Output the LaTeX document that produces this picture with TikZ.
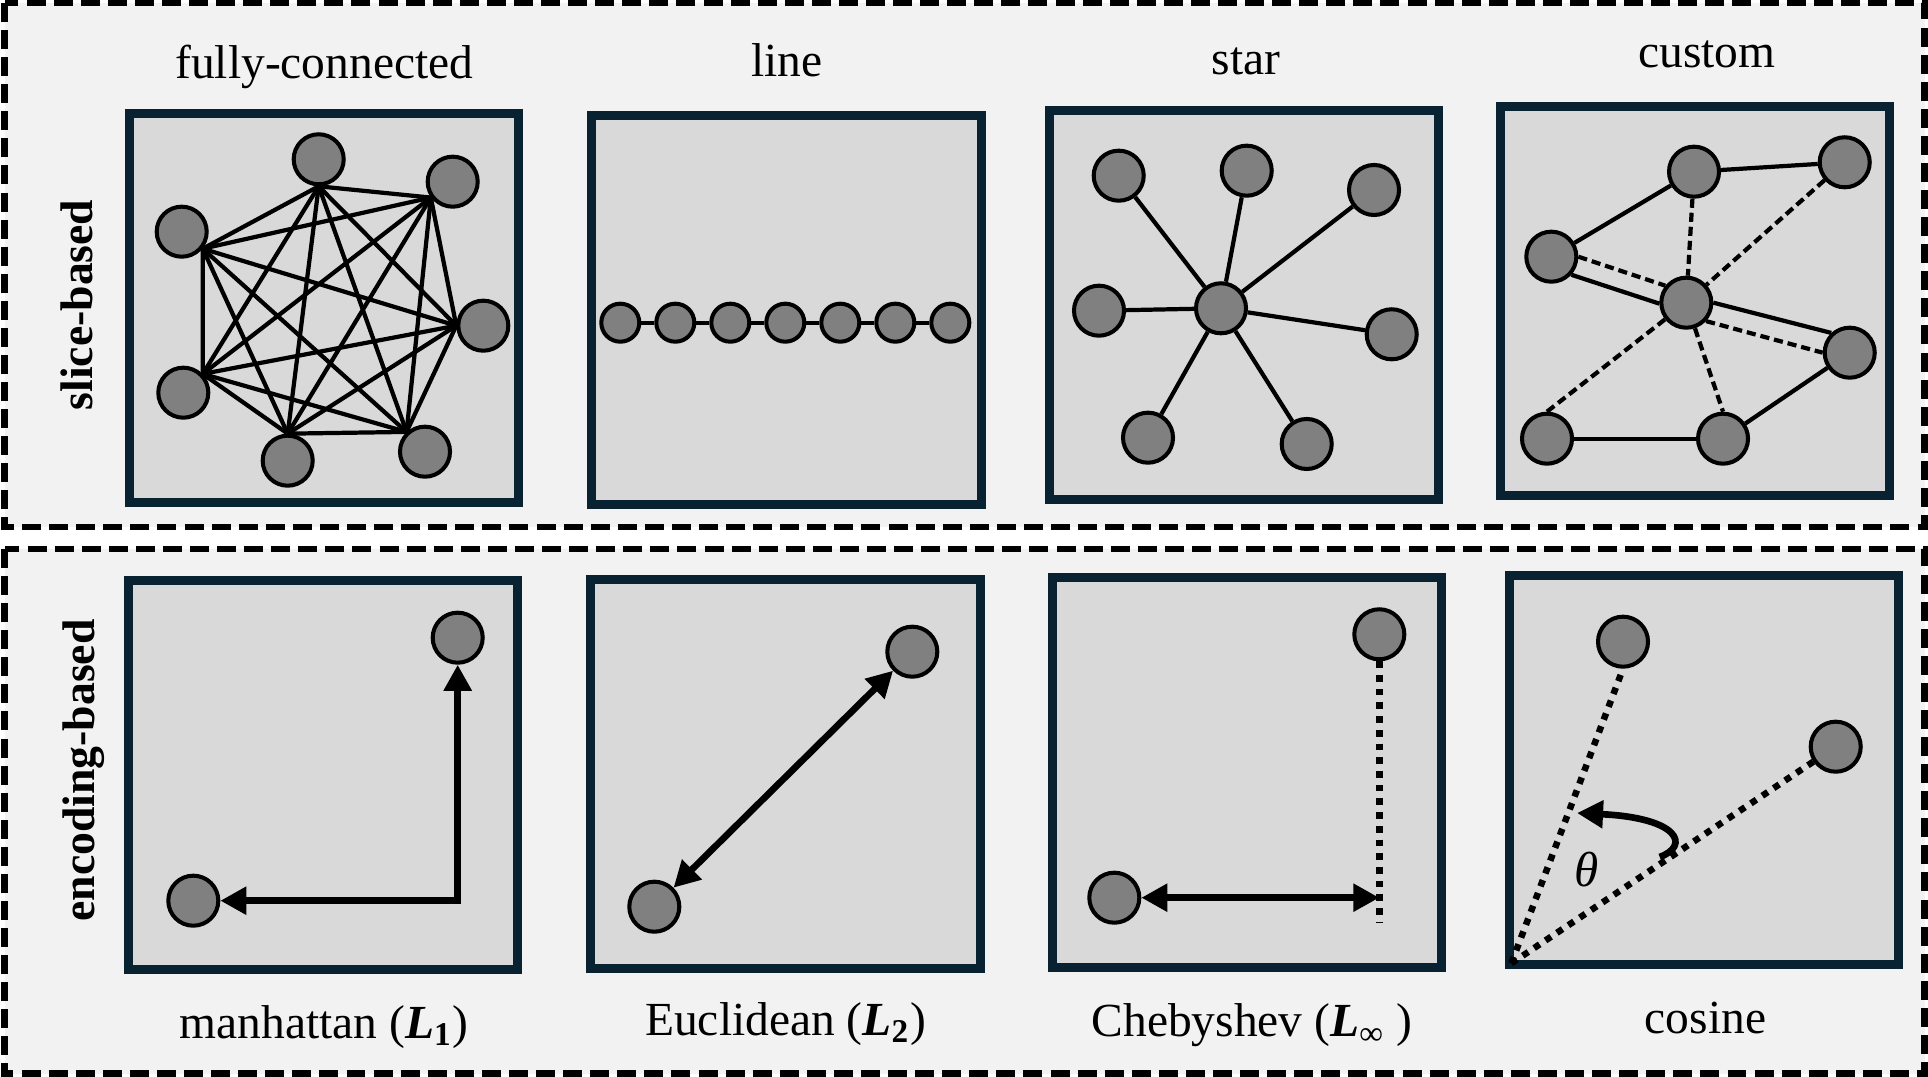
\documentclass[tikz,border=0pt]{standalone}
\usepackage{fontspec}
\setmainfont{Liberation Serif}
\usetikzlibrary{arrows.meta}

\definecolor{boxgray}{HTML}{F2F2F2}
\definecolor{panelgray}{HTML}{D9D9D9}
\definecolor{panelnavy}{RGB}{8,34,50}
\definecolor{vertexgray}{HTML}{808080}

\begin{document}
\begin{tikzpicture}[
        x=0.01cm, y=-0.01cm,
        >={Triangle[length=7.4pt, width=7.6pt]},
        outerbox/.style={draw=black, fill=boxgray, line width=1.85pt, dash pattern=on 5.4pt off 2.3pt},
        panel/.style={rectangle, draw=panelnavy, fill=panelgray, line width=2.56pt, minimum size=3.89cm, inner sep=0pt},
        vertex/.style={circle, draw=black, fill=vertexgray, line width=1.15pt, minimum size=0.5cm, inner sep=0pt},
        small vertex/.style={vertex, minimum size=0.38cm},
        link/.style={line width=1.2pt},
        dlink/.style={link, dash pattern=on 2.6pt off 1.4pt},
        dotline/.style={line width=1.85pt, dash pattern=on 1.9pt off 2pt},
        arrow/.style={line width=1.9pt},
        title/.style={font=\fontsize{13.5}{16}\selectfont, anchor=base},
        side/.style={font=\fontsize{13}{15}\selectfont\bfseries, rotate=90}
    ]

    % Page and the two groups
    \useasboundingbox (0,0) rectangle (1928,1077);
    \fill[white] (0,0) rectangle (1928,1077);
    \draw[outerbox] (4.5,3) rectangle (1924.5,527);
    \draw[outerbox] (4.5,549) rectangle (1924.5,1073.5);

    \node[side] (lslice) at (77,305) {slice-based};
    \node[side] (lenc) at (84,770.5) {encoding-based};

    % Panels
    \node[panel] (pfull) at (324.2,308.2) {};
    \node[panel] (pline) at (786.5,310.2) {};
    \node[panel] (pstar) at (1243.9,305.2) {};
    \node[panel] (pcustom) at (1695.3,301.3) {};
    \node[panel] (pman) at (323.3,775.2) {};
    \node[panel] (peuc) at (785.5,774.2) {};
    \node[panel] (pcheb) at (1247.3,772.5) {};
    \node[panel] (pcos) at (1704.3,770.2) {};

    % Titles
    \node[title] (tfull) at (324.3,79) {fully-connected};
    \node[title] (tline) at (786.7,76.7) {line};
    \node[title] (tstar) at (1246,75) {star};
    \node[title] (tcustom) at (1707,67.3) {custom};
    \node[title] (tman) at (324,1038.3) {manhattan ({\bfseries\itshape L}\textsubscript{\bfseries 1})};
    \node[title] (teuc) at (785.5,1035) {Euclidean ({\bfseries\itshape L}\textsubscript{\bfseries 2})};
    \node[title] (tcheb) at (1252,1036.7) {Chebyshev ({\bfseries\itshape L}\textsubscript{∞} )};
    \node[title] (tcos) at (1705.5,1033.3) {cosine};

    % fully-connected
    \node[vertex] (f1) at (318.7,159.3) {};
    \node[vertex] (f2) at (452.7,181.7) {};
    \node[vertex] (f3) at (181.7,231.7) {};
    \node[vertex] (f4) at (483.3,325.7) {};
    \node[vertex] (f5) at (183.3,392.7) {};
    \node[vertex] (f6) at (287.7,460.7) {};
    \node[vertex] (f7) at (425,451.7) {};
    \foreach \n/\a in {1/270,2/216,3/321,4/180,5/44,6/90,7/133}
        \coordinate (q\n) at (f\n.\a);
    \foreach \i in {1,...,6}{
        \pgfmathtruncatemacro{\k}{\i+1}
        \foreach \j in {\k,...,7}
            \draw[link] (q\i) -- (q\j);
    }

    % line
    \foreach \i in {1,...,7}
        \node[small vertex] (l\i) at ({620.3+55*(\i-1)},322.7) {};
    \foreach \i in {1,...,6}{
        \pgfmathtruncatemacro{\k}{\i+1}
        \draw[link] (l\i) -- (l\k);
    }

    % star
    \node[vertex] (hub) at (1221,308.3) {};
    \foreach \n/\x/\y in {1/1118.7/175.7, 2/1246.7/170.7, 3/1374/190, 4/1099/310.7,
                          5/1391.7/334.3, 6/1148/437.7, 7/1306.7/444}{
        \node[vertex] (s\n) at (\x,\y) {};
        \draw[link] (hub) -- (s\n);
    }

    % custom
    \node[vertex] (ca) at (1694,171.7) {};
    \node[vertex] (cb) at (1844.7,162.3) {};
    \node[vertex] (cc) at (1551.3,256.7) {};
    \node[vertex] (cd) at (1686.3,302.7) {};
    \node[vertex] (ce) at (1849.7,352.7) {};
    \node[vertex] (cf) at (1547,438.7) {};
    \node[vertex] (cg) at (1723,438.7) {};
    \draw[link] (cc) -- (ca);
    \draw[link] (ca) -- (cb);
    \draw[link] (cc.318) -- (cd.182);
    \draw[link] (cd.0) -- (ce.133);
    \draw[link] (cf) -- (cg);
    \draw[link] (cg) -- (ce);
    \draw[dlink] (cc.0) -- (cd.141);
    \draw[dlink] (cd.317) -- (ce.180);
    \draw[dlink] (ca) -- (cd);
    \draw[dlink] (cb) -- (cd);
    \draw[dlink] (cd) -- (cf.north);
    \draw[dlink] (cd) -- (cg.north);

    % manhattan
    \node[vertex] (m1) at (193.3,900.7) {};
    \node[vertex] (m2) at (457.7,637.7) {};
    \draw[arrow, <->] (m2.south) |- (m1.east);

    % Euclidean
    \node[vertex] (e1) at (654.3,906.7) {};
    \node[vertex] (e2) at (912.3,651.7) {};
    \draw[arrow, <->] (e1) -- (e2);

    % Chebyshev
    \node[vertex] (c1) at (1114.3,897.7) {};
    \node[vertex] (c2) at (1379.3,634.3) {};
    \coordinate (chebend) at (1379.3,923.3);
    \coordinate (chebhit) at (c1.east -| c2.south);
    \draw[dotline] (c2.south) -- (chebend);
    \draw[arrow, <->] (c1) -- (chebhit);

    % cosine
    \node[vertex] (k1) at (1623,641.7) {};
    \node[vertex] (k2) at (1835.7,746.7) {};
    \coordinate (origin) at (1511.3,963.3);
    \draw[dotline] (origin) -- (k1.south);
    \draw[dotline] (origin) -- (k2);
    \coordinate (arcstart) at (1659.7,857);
    \coordinate (arctip) at (1577,813);
    \draw[arrow, ->] (arcstart) .. controls (1690,846) and (1680,818) .. (arctip);
    \node[font=\fontsize{14}{16}\selectfont\itshape] (theta) at (1586.3,870) {θ};

\end{tikzpicture}
\end{document}
